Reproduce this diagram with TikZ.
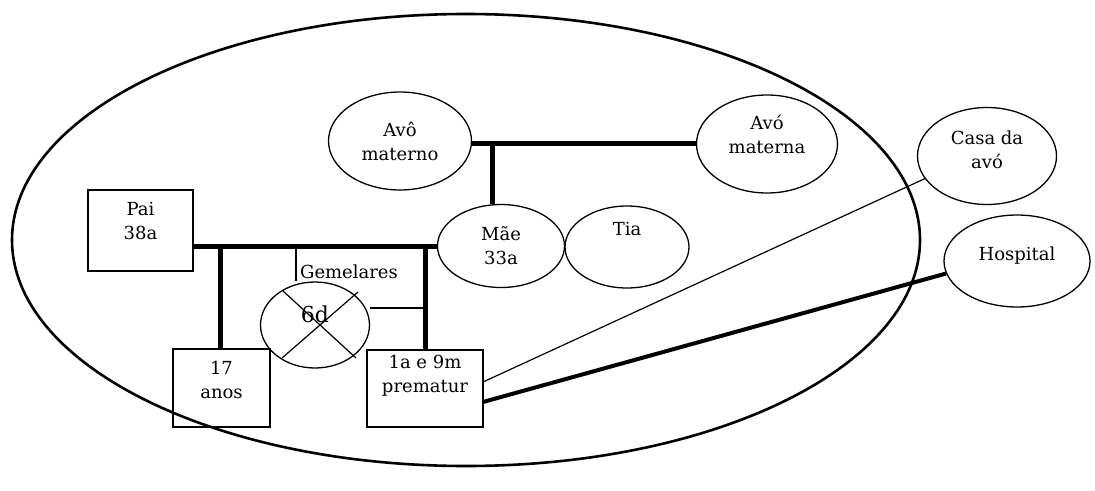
\documentclass[tikz,border=0pt]{standalone}
\usepackage{fontspec}
\setmainfont{DejaVu Serif}
\usetikzlibrary{shapes.geometric}
\begin{document}
\begin{tikzpicture}[x=1pt,y=-1pt,
  person/.style={draw,line width=1.3pt,ellipse,inner sep=0pt},
  box/.style={draw,line width=1.1pt,rectangle,inner sep=0pt},
  txt/.style={font=\fontsize{18}{24}\selectfont,align=center,inner sep=0pt},
  bond/.style={line width=5pt},
  thin/.style={line width=1.2pt}]
\useasboundingbox (0,0) rectangle (1095,490);
% eco map boundary
\draw[line width=2.6pt] (466,240) ellipse [x radius=454, y radius=226];
% people
\node[person,minimum width=143pt,minimum height=98pt] (avo) at (400,141) {};
\node[person,minimum width=141pt,minimum height=98pt] (avoa) at (767,144) {};
\node[person,minimum width=127pt,minimum height=83pt] (mae) at (501,246) {};
\node[person,minimum width=124pt,minimum height=82pt] (tia) at (627,247) {};
\node[person,minimum width=139pt,minimum height=97pt] (casa) at (987,156) {};
\node[person,minimum width=146pt,minimum height=92pt] (hosp) at (1017,261) {};
\node[person,minimum width=109pt,minimum height=86pt] (gem) at (315,325) {};
\node[box,minimum width=105pt,minimum height=81pt] (pai) at (140.5,230.5) {};
\node[box,minimum width=97pt,minimum height=78pt] (f17) at (221.5,388) {};
\node[box,minimum width=116pt,minimum height=77pt] (f1a) at (425,388.5) {};
% texts
\node[txt] (avoT) at (400,141) {Avô\\materno};
\node[txt] (avoaT) at (767,134) {Avó\\materna};
\node[txt] (maeT) at (501,246) {Mãe\\33a};
\node[txt] (tiaT) at (627,229) {Tia};
\node[txt] (casaT) at (987,150) {Casa da\\avó};
\node[txt] (hospT) at (1017,256) {Hospital};
\node[txt] (paiT) at (140.5,221) {Pai\\38a};
\node[txt] (f17T) at (221.5,380) {17\\anos};
\node[txt] (f1aT) at (425,376) {1a e 9m\\prematur};
\node[txt] (gemT) at (349,272) {Gemelares};
\node[txt,font=\fontsize{22}{24}\selectfont] (sixd) at (315,314) {6d};
% coordinates for bonds
\coordinate (gp) at (492,143);
\coordinate (kA) at (220,246);
\coordinate (kB) at (425,246);
\coordinate (tw) at (296,246);
\coordinate (twE) at (425,308);
% grandparents
\draw[bond] (avo.east |- gp) -- (avoa.west |- gp);
\draw[bond] (gp) -- (gp |- mae.north);
% parents
\draw[bond] (pai.east |- kA) -- (mae.west |- kA);
\draw[bond] (kA) -- (kA |- f17.north);
\draw[bond] (kB) -- (kB |- f1a.north);
% twins
\draw[thin] (tw) -- (tw |- gem.north);
\draw[thin] (gem.east |- twE) -- (twE);
\draw[thin] (283,291) -- (356,358);
\draw[thin] (282,358) -- (358,292);
% external links
\draw[thin] (483,382) -- (casa.200);
\draw[line width=4pt] (483,402) -- (hosp.190);
\end{tikzpicture}
\end{document}
